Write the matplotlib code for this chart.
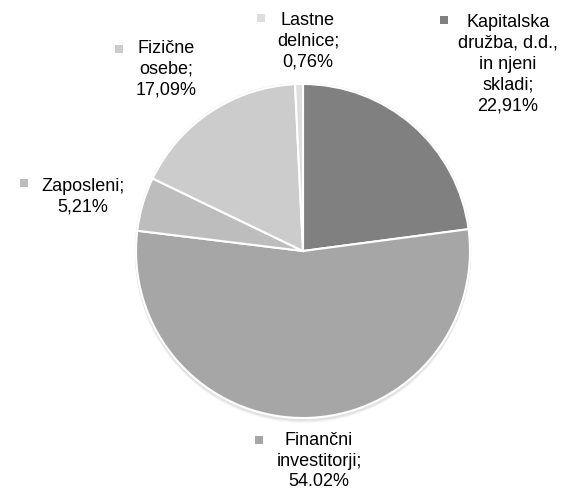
import matplotlib.pyplot as plt
from matplotlib.patches import Circle, Rectangle

# Ownership structure (share of capital, %)
categories = ["Kapitalska družba, d.d., in njeni skladi", "Finančni investitorji",
              "Zaposleni", "Fizične osebe", "Lastne delnice"]
values = [22.91, 54.02, 5.21, 17.09, 0.76]
label_texts = ["Kapitalska\ndružba, d.d.,\nin njeni\nskladi;\n22,91%",
               "Finančni\ninvestitorji;\n54.02%",
               "Zaposleni;\n5,21%",
               "Fizične\nosebe;\n17,09%",
               "Lastne\ndelnice;\n0,76%"]
colors = ["#808080", "#a6a6a6", "#bdbdbd", "#cccccc", "#dedede"]

plt.rcParams['font.family'] = ['Liberation Sans', 'DejaVu Sans']

W, H = 561, 491
fig = plt.figure(figsize=(W / 100, H / 100), dpi=100)
ax = fig.add_axes([0, 0, 1, 1])

cx, cy, r = 303, H - 251, 167

# soft shadow under the pie
for dy, a in [(4, 0.06), (3, 0.08), (2, 0.10)]:
    ax.add_patch(Circle((cx, cy - dy), r + 1, color='#808080', alpha=a, lw=0, zorder=0))
ax.add_patch(Circle((cx, cy), r + 1.2, color='#e6e6e6', lw=0, zorder=0.5))

ax.pie(values, colors=colors, startangle=90, counterclock=False,
       center=(cx, cy), radius=r, frame=True,
       wedgeprops=dict(edgecolor='white', linewidth=1.5))
ax.set_xlim(0, W)
ax.set_ylim(0, H)
ax.set_aspect('equal')
ax.axis('off')

# label positions (text center x, y) and marker centers in pixel coords
text_pos = [(508, 64), (319, 461), (83, 197), (166, 69), (308, 41)]
mark_pos = [(444, 20), (259, 440), (24, 183), (119, 49), (261, 18)]

for txt, (tx, ty), (mx, my), c in zip(label_texts, text_pos, mark_pos, colors):
    ax.text(tx, H - ty, txt, ha='center', va='center', fontsize=13,
            color='#000000', linespacing=1.3)
    ax.add_patch(Rectangle((mx - 4, H - my - 4), 8, 8, color=c, lw=0))

fig.savefig("out.png", dpi=100)
